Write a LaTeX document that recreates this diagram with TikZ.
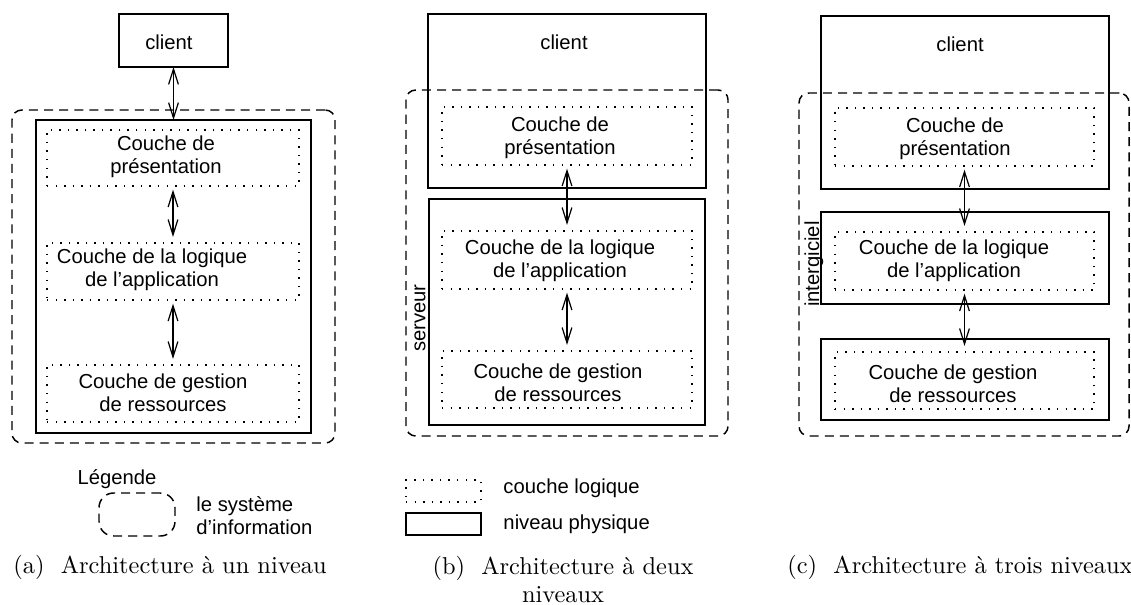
\documentclass[tikz,border=0pt]{standalone}
\usepackage{fontspec}
\setsansfont{Liberation Sans}
\usetikzlibrary{arrows.meta,fit,calc}
\begin{document}
\begin{tikzpicture}[x=0.41pt,y=-0.41pt,
 phys/.style={draw, line width=0.6pt, inner sep=0pt, outer sep=0pt},
 logic/.style={draw, line width=0.6pt, dash pattern=on 0.6pt off 2.9pt, inner sep=0pt, outer sep=0pt},
 sysinfo/.style={draw, line width=0.6pt, dash pattern=on 3.7pt off 2.5pt, rounded corners=4pt, inner sep=0pt, outer sep=0pt},
 lbl/.style={font=\sffamily\fontsize{8.3}{9.4}\selectfont, align=center, inner sep=0pt},
 leglbl/.style={font=\sffamily\fontsize{8.3}{9.4}\selectfont, align=left, inner sep=0pt, anchor=west},
 captxt/.style={font=\fontsize{10}{11.5}\selectfont, align=center, inner sep=0pt},
 biarrow/.style={line width=0.5pt, {Straight Barb[length=6.3pt,width=4pt]}-{Straight Barb[length=6.3pt,width=4pt]}, shorten <=1.5pt, shorten >=2.5pt},
]
\useasboundingbox (0,0) rectangle (1131,604);

% ---------------- (a) ----------------
\node[phys, fit={(119,14) (228,67)}] (aclient) {};
\node[lbl] (aclientt) at (169,42) {client};
\node[sysinfo, fit={(12,110) (335,443)}] (asys) {};
\node[phys, fit={(36,120) (311,433)}] (aphys) {};
\node[logic, fit={(47,130) (299,186)}] (apres) {};
\node[logic, fit={(47,243) (299,300)}] (alog) {};
\node[logic, fit={(47,365) (299,422)}] (ares) {};
\node[lbl] (apresT) at (166,157) {Couche de\\présentation};
\node[lbl] (alogT) at (152,270) {Couche de la logique\\de l’application};
\node[lbl] (aresT) at (163,393) {Couche de gestion\\de ressources};
\draw[biarrow, shorten <=0pt, shorten >=0pt] (aclient.south) -- (aphys.north);
\draw[biarrow] (apres.south) -- (alog.north);
\draw[biarrow] (alog.south) -- (ares.north);
% legend
\node[lbl] (legT) at (117,479) {Légende};
\node[sysinfo, rounded corners=6pt, fit={(99,493) (175,536)}] (legsys) {};
\node[leglbl] (legsysT) at (196,516) {le système\\d’information};
\node[captxt] (capa) at (170,567) {(a)\ \ Architecture à un niveau};

% ---------------- (b) ----------------
\node[phys, fit={(428,14) (706,188)}] (bclient) {};
\node[lbl] (bclientt) at (564,42) {client};
\node[phys, fit={(429,199) (705,425)}] (bserv) {};
\node[sysinfo, fit={(406,90) (728,436)}] (bsys) {};
\node[logic, fit={(442,107) (692,165)}] (bpres) {};
\node[logic, fit={(442,231) (692,289)}] (blog) {};
\node[logic, fit={(442,351) (692,408)}] (bres) {};
\node[lbl] (bpresT) at (560,138) {Couche de\\présentation};
\node[lbl] (blogT) at (560,261) {Couche de la logique\\de l’application};
\node[lbl] (bresT) at (558,383) {Couche de gestion\\de ressources};
\node[lbl, rotate=90] (bservT) at (420,318) {serveur};
\draw[biarrow] (bpres.south) -- (blog.north);
\draw[biarrow] (blog.south) -- (bres.north);
% legend
\node[logic, fit={(406,480) (481,502)}] (leglog) {};
\node[leglbl] (leglogT) at (503,488) {couche logique};
\node[phys, fit={(406,513) (481,535)}] (legphys) {};
\node[leglbl] (legphysT) at (503,524) {niveau physique};
\node[captxt] (capb) at (563,579) {(b)\ \ Architecture à deux\\niveaux};

% ---------------- (c) ----------------
\node[phys, fit={(821,16) (1109,189)}] (cclient) {};
\node[lbl] (cclientt) at (960,44) {client};
\node[phys, fit={(821,212) (1109,304)}] (cmid) {};
\node[phys, fit={(821,339) (1109,420)}] (cres0) {};
\node[sysinfo, fit={(799,93) (1129,436)}] (csys) {};
\node[logic, fit={(835,108) (1094,166)}] (cpres) {};
\node[logic, fit={(835,232) (1094,290)}] (clog) {};
\node[logic, fit={(835,352) (1094,409)}] (cres) {};
\node[lbl] (cpresT) at (955,139) {Couche de\\présentation};
\node[lbl] (clogT) at (954,261) {Couche de la logique\\de l’application};
\node[lbl] (cresT) at (953,384) {Couche de gestion\\de ressources};
\node[lbl, rotate=90] (cmidT) at (814,264) {intergiciel};
\draw[biarrow] (cpres.south) -- (clog.north);
\draw[biarrow] (clog.south) -- (cres.north);
\node[captxt] (capc) at (960,567) {(c)\ \ Architecture à trois niveaux};
\end{tikzpicture}
\end{document}
